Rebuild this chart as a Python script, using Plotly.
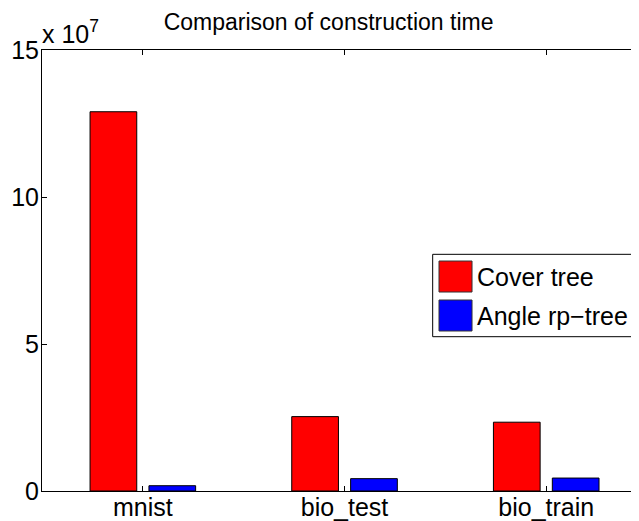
import plotly.graph_objects as go

# data (construction time, raw units)
datasets = ["mnist", "bio_test", "bio_train"]
cover_tree = [12.9e7, 2.53e7, 2.34e7]
angle_rp_tree = [0.18e7, 0.42e7, 0.44e7]
series_names = ["Cover tree", "Angle rp\u2212tree"]
series_colors = ["#ff0000", "#0000ff"]
y_tick_vals = [0, 5e7, 10e7, 15e7]
y_tick_text = ["0", "5", "10", "15"]

FONT = "Liberation Sans, Arial, Helvetica, sans-serif"
# the html page has an 8px body margin, so the figure is shrunk by that much
PAGE_PAD = 8

fig = go.Figure()
for name, vals, color in zip(series_names, [cover_tree, angle_rp_tree], series_colors):
    fig.add_trace(go.Bar(
        x=datasets,
        y=vals,
        name=name,
        marker=dict(color=color, line=dict(color="black", width=1)),
        showlegend=False,
    ))

fig.update_layout(
    width=639 - PAGE_PAD,
    height=521 - PAGE_PAD,
    margin=dict(l=42 - PAGE_PAD, r=0, t=50 - PAGE_PAD, b=30),
    paper_bgcolor="white",
    plot_bgcolor="white",
    font=dict(family=FONT, size=25, color="black"),
    barmode="group",
    bargap=0.416,
    bargroupgap=0.207,
    title=dict(
        text="Comparison of construction time",
        x=0.508, xanchor="center",
        y=1, yref="paper", yanchor="bottom",
        pad=dict(b=20),
        font=dict(size=23, color="black"),
        automargin=False,
    ),
)

fig.update_xaxes(
    range=[-0.5, 2.46],
    automargin=False,
    showline=True, linecolor="black", linewidth=1,
    mirror="ticks",
    ticks="inside", ticklen=5, tickcolor="black", tickwidth=1,
    showgrid=False, zeroline=False,
    tickfont=dict(size=25),
    ticklabelstandoff=-6,
)
fig.update_yaxes(
    range=[0, 15e7],
    automargin=False,
    tickvals=y_tick_vals, ticktext=y_tick_text,
    showline=True, linecolor="black", linewidth=1,
    ticks="inside", ticklen=5, tickcolor="black", tickwidth=1,
    showgrid=False, zeroline=False,
    tickfont=dict(size=25),
    ticklabelstandoff=-3,
)

# exponent label above the y axis
fig.add_annotation(
    text="x 10<sup>7</sup>", xref="paper", yref="paper",
    x=0, y=1, xanchor="left", yanchor="bottom", showarrow=False,
    font=dict(size=25), yshift=0, xshift=-2,
)

# MATLAB-style legend box with big swatches
box_x0, box_x1, box_y0, box_y1 = 0.6544, 0.9888, 0.3499, 0.5367
fig.add_shape(type="rect", xref="paper", yref="paper",
              x0=box_x0, x1=box_x1, y0=box_y0, y1=box_y1,
              line=dict(color="black", width=1), fillcolor="white", layer="above")
sw_x0, sw_x1 = 0.665, 0.7203
sw_rows = [(0.4512, 0.5215), (0.3628, 0.4331)]
for name, color, (y0, y1) in zip(series_names, series_colors, sw_rows):
    fig.add_shape(type="rect", xref="paper", yref="paper",
                  x0=sw_x0, x1=sw_x1, y0=y0, y1=y1,
                  line=dict(color="#333333", width=1), fillcolor=color, layer="above")
    fig.add_annotation(text=name, xref="paper", yref="paper",
                       x=0.726, y=(y0 + y1) / 2, xanchor="left", yanchor="middle",
                       showarrow=False, font=dict(size=25))

fig.write_html("out.html")
